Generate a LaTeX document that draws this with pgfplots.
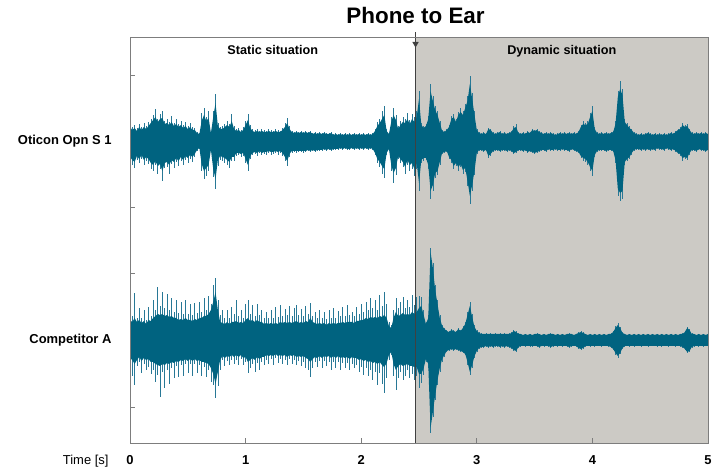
\documentclass[border=0pt]{standalone}
\usepackage{pgfplots}
\pgfplotsset{compat=1.18}
\usepackage{pgfplotstable}
\usepgfplotslibrary{fillbetween}
\tikzset{fill between/on layer=main}
\usepackage{fontspec}
\setmainfont{Liberation Sans}
\definecolor{wave}{RGB}{0,99,128}
\definecolor{hair}{RGB}{40,120,150}
\definecolor{bgray}{RGB}{204,202,197}
\definecolor{axgray}{RGB}{125,125,125}

\pgfplotstableread{
t u l a b
0.00 18 20 14 16
0.02 14 24 11 19
0.04 16 27 13 21
0.06 13 19 10 15
0.08 17 22 14 18
0.10 14 18 11 14
0.12 18 24 14 19
0.14 15 20 12 16
0.16 19 23 15 18
0.18 22 28 18 22
0.20 26 30 21 24
0.22 32 24 24 20
0.24 22 33 19 25
0.26 27 28 22 23
0.28 30 40 23 30
0.30 20 27 17 22
0.32 22 26 18 21
0.34 19 33 16 24
0.36 25 23 19 19
0.38 18 27 15 21
0.40 22 21 17 17
0.42 17 25 14 20
0.44 20 20 16 16
0.46 16 24 13 19
0.48 19 19 15 15
0.50 15 22 12 17
0.52 18 18 14 14
0.54 14 21 11 16
0.56 13 16 11 13
0.58 9 10 8 9
0.60 8 8 7 7
0.62 28 30 20 23
0.64 33 38 26 30
0.66 24 35 20 27
0.68 30 30 23 24
0.70 9 10 8 9
0.72 30 36 24 28
0.74 47 48 38 38
0.76 18 25 15 19
0.78 14 19 12 15
0.80 15 20 12 16
0.82 17 22 14 17
0.84 20 24 16 19
0.86 17 27 14 21
0.88 27 20 20 16
0.90 15 20 12 16
0.92 12 15 10 12
0.94 13 14 11 12
0.96 11 16 9 13
0.98 14 15 11 12
1.00 20 22 16 18
1.02 27 30 21 24
1.04 16 18 13 15
1.06 12 14 10 12
1.08 11 13 9 11
1.10 12 15 10 12
1.12 10 12 9 10
1.14 12 14 10 12
1.16 11 13 9 11
1.18 10 14 9 11
1.20 12 12 10 10
1.22 11 14 9 11
1.24 10 13 9 11
1.26 12 12 10 10
1.28 11 14 9 11
1.30 10 12 9 10
1.32 13 15 11 12
1.34 18 20 14 16
1.36 23 25 18 20
1.38 15 16 12 13
1.40 10 12 9 10
1.42 9 11 8 10
1.44 10 12 9 10
1.46 9 11 8 10
1.48 10 11 9 10
1.50 9 12 8 10
1.52 10 11 9 10
1.54 9 10 8 9
1.56 10 11 9 10
1.58 8 10 7 9
1.60 9 11 8 10
1.62 8 10 7 9
1.64 9 10 8 9
1.66 8 10 7 9
1.68 9 9 8 8
1.70 8 10 7 9
1.72 8 9 7 8
1.74 9 10 8 9
1.76 7 9 6 8
1.78 8 9 7 8
1.80 7 9 6 8
1.82 8 8 7 7
1.84 7 9 6 8
1.86 8 8 7 7
1.88 7 9 6 8
1.90 8 9 7 8
1.92 7 8 6 7
1.94 8 9 7 8
1.96 7 8 6 7
1.98 8 9 7 8
2.00 7 8 6 7
2.02 8 9 7 8
2.04 7 8 6 7
2.06 8 9 7 8
2.08 7 8 6 7
2.10 8 9 7 8
2.12 12 14 10 12
2.14 19 22 15 18
2.16 22 26 18 21
2.18 30 33 22 25
2.20 35 37 26 28
2.22 12 14 10 12
2.24 8 9 7 8
2.26 24 30 19 24
2.28 33 42 26 32
2.30 26 34 21 27
2.32 15 18 12 15
2.34 20 22 16 18
2.36 24 26 19 21
2.38 22 33 18 26
2.40 28 24 22 19
2.42 21 30 17 24
2.44 27 28 22 22
2.46 24 35 19 28
2.48 30 28 24 22
2.50 50 50 42 42
2.52 18 22 16 19
2.54 15 20 13 17
2.56 17 19 15 17
2.58 25 28 22 24
2.60 57 58 50 50
2.62 45 50 40 44
2.64 35 37 31 32
2.66 30 34 26 30
2.68 20 24 18 21
2.70 11 13 10 12
2.72 10 12 9 11
2.74 12 11 11 10
2.76 16 18 14 16
2.78 25 22 22 19
2.80 27 28 24 25
2.82 22 25 19 22
2.84 29 30 26 26
2.86 33 26 29 23
2.88 30 33 26 29
2.90 37 31 33 27
2.92 45 45 40 40
2.94 65 63 57 55
2.96 48 50 42 44
2.98 30 34 26 30
3.00 12 13 11 12
3.02 9 10 8 9
3.04 8 10 7 9
3.06 9 11 8 10
3.08 8 10 7 9
3.10 13 17 12 15
3.12 12 15 11 13
3.14 9 11 8 10
3.16 8 10 7 9
3.18 9 10 8 9
3.20 10 11 9 10
3.22 8 10 7 9
3.24 9 10 8 9
3.26 8 11 7 10
3.28 9 10 8 9
3.30 10 11 9 10
3.32 15 13 13 12
3.34 17 12 14 11
3.36 9 10 8 9
3.38 8 10 7 9
3.40 9 11 8 10
3.42 8 10 7 9
3.44 10 12 9 11
3.46 9 11 8 10
3.48 12 12 11 11
3.50 11 13 10 12
3.52 12 12 11 11
3.54 10 11 9 10
3.56 9 10 8 9
3.58 8 10 7 9
3.60 9 11 8 10
3.62 8 9 7 8
3.64 9 10 8 9
3.66 8 10 7 9
3.68 7 9 6 8
3.70 8 10 7 9
3.72 9 10 8 9
3.74 8 9 7 8
3.76 9 10 8 9
3.78 8 10 7 9
3.80 9 11 8 10
3.82 8 9 7 8
3.84 9 10 8 9
3.86 8 11 7 10
3.88 10 12 9 11
3.90 16 17 14 15
3.92 20 20 17 17
3.94 18 21 16 18
3.96 20 24 17 21
3.98 28 30 24 26
4.00 35 35 30 30
4.02 14 16 12 14
4.04 9 11 8 10
4.06 8 10 7 9
4.08 9 10 8 9
4.10 8 10 7 9
4.12 9 11 8 10
4.14 8 10 7 9
4.16 9 10 8 9
4.18 10 11 9 10
4.20 20 22 17 19
4.22 50 55 44 48
4.24 60 60 52 52
4.26 52 58 46 50
4.28 22 24 19 21
4.30 18 20 16 18
4.32 15 18 13 16
4.34 12 14 11 12
4.36 9 10 8 9
4.38 8 9 7 8
4.40 7 9 6 8
4.42 8 10 7 9
4.44 7 9 6 8
4.46 8 10 7 9
4.48 9 9 8 8
4.50 8 10 7 9
4.52 7 9 6 8
4.54 8 10 7 9
4.56 7 8 6 7
4.58 8 9 7 8
4.60 7 9 6 8
4.62 8 10 7 9
4.64 7 8 6 7
4.66 8 9 7 8
4.68 9 10 8 9
4.70 8 9 7 8
4.72 10 11 9 10
4.74 12 13 11 12
4.76 14 15 12 13
4.78 18 20 16 17
4.80 16 18 14 16
4.82 17 19 15 17
4.84 12 14 11 12
4.86 9 10 8 9
4.88 8 10 7 9
4.90 9 11 8 10
4.92 8 9 7 8
4.94 9 10 8 9
4.96 8 10 7 9
4.98 9 11 8 10
5.00 8 10 7 9
}\tabO

\pgfplotstableread{
t u l a b
0.00 30 25 20 18
0.02 24 36 18 20
0.04 47 45 22 24
0.06 22 26 18 20
0.08 32 22 20 17
0.10 22 33 17 21
0.12 30 24 19 18
0.14 20 30 16 20
0.16 33 27 20 19
0.18 24 34 19 22
0.20 40 30 22 22
0.22 30 42 24 24
0.24 53 35 26 25
0.26 34 57 25 26
0.28 48 32 26 24
0.30 32 48 24 25
0.32 46 30 25 23
0.34 30 44 23 24
0.36 42 28 24 22
0.38 28 38 22 23
0.40 40 26 22 21
0.42 27 37 20 22
0.44 38 25 21 20
0.46 26 36 20 21
0.48 40 24 22 19
0.50 26 33 20 21
0.52 36 24 20 19
0.54 25 36 19 21
0.56 37 24 21 19
0.58 27 33 20 21
0.60 38 25 22 20
0.62 28 36 22 22
0.64 42 27 24 22
0.66 30 37 24 23
0.68 44 30 26 24
0.70 36 42 30 28
0.72 55 45 38 34
0.74 62 58 48 44
0.76 40 46 30 32
0.78 25 30 18 20
0.80 30 20 17 16
0.82 22 26 16 18
0.84 30 21 18 16
0.86 22 25 16 17
0.88 33 20 18 15
0.90 26 24 18 17
0.92 40 20 19 15
0.94 24 25 17 17
0.96 30 19 18 15
0.98 22 25 17 18
1.00 36 22 20 17
1.02 40 33 22 22
1.04 26 28 19 20
1.06 35 24 20 18
1.08 24 32 18 20
1.10 36 23 20 17
1.12 25 30 18 19
1.14 30 22 18 17
1.16 22 25 16 17
1.18 28 20 17 15
1.20 22 24 16 16
1.22 30 19 17 15
1.24 22 25 16 16
1.26 33 18 17 14
1.28 23 23 16 16
1.30 35 19 18 15
1.32 24 24 17 16
1.34 31 20 18 15
1.36 25 25 17 17
1.38 34 19 18 15
1.40 24 24 17 16
1.42 32 20 18 15
1.44 35 25 19 17
1.46 25 21 17 16
1.48 31 26 18 17
1.50 24 22 17 16
1.52 34 28 19 18
1.54 26 30 18 19
1.56 37 37 22 22
1.58 24 28 18 19
1.60 28 22 17 17
1.62 22 27 16 18
1.64 30 21 17 16
1.66 22 28 16 18
1.68 28 21 17 16
1.70 21 26 15 17
1.72 30 22 17 16
1.74 22 30 16 18
1.76 32 22 17 16
1.78 22 28 16 18
1.80 29 22 17 16
1.82 24 30 17 18
1.84 33 23 18 17
1.86 24 28 17 18
1.88 35 23 18 17
1.90 25 30 18 19
1.92 28 24 18 17
1.94 24 28 17 18
1.96 33 25 19 18
1.98 26 32 19 20
2.00 36 27 20 19
2.02 28 35 20 21
2.04 38 28 22 20
2.06 30 36 21 22
2.08 42 30 23 21
2.10 32 40 22 23
2.12 40 32 23 22
2.14 30 45 22 24
2.16 45 33 24 22
2.18 34 44 23 25
2.20 48 53 25 27
2.22 36 38 22 23
2.24 18 20 14 15
2.26 15 15 12 12
2.28 30 36 22 24
2.30 42 50 28 30
2.32 32 38 24 26
2.34 38 32 25 24
2.36 43 40 27 26
2.38 32 36 25 25
2.40 40 30 26 24
2.42 33 38 25 26
2.44 45 34 28 26
2.46 35 40 26 27
2.48 43 36 28 27
2.50 44 48 32 34
2.52 43 43 34 34
2.54 30 35 25 28
2.56 18 22 16 19
2.58 25 28 22 24
2.60 92 93 88 88
2.62 77 77 72 72
2.64 55 60 50 55
2.66 40 45 36 40
2.68 25 32 22 28
2.70 15 22 14 19
2.72 12 17 11 15
2.74 10 12 9 11
2.76 9 11 8 10
2.78 11 10 10 9
2.80 10 11 9 10
2.82 9 10 8 9
2.84 12 11 11 10
2.86 10 12 9 11
2.88 14 13 12 12
2.90 18 15 16 14
2.92 28 25 25 22
2.94 38 35 34 32
2.96 26 28 23 25
2.98 15 18 13 16
3.00 10 12 9 11
3.02 8 9 7 8
3.04 7 8 6 7
3.06 6 8 6 7
3.08 7 7 6 6
3.10 6 8 6 7
3.12 7 7 6 6
3.14 6 8 6 7
3.16 7 7 6 6
3.18 6 7 6 6
3.20 7 8 6 7
3.22 6 7 6 6
3.24 7 8 6 7
3.26 6 7 6 6
3.28 7 8 6 7
3.30 8 9 7 8
3.32 10 11 9 10
3.34 9 12 8 11
3.36 7 8 6 7
3.38 6 7 6 6
3.40 5 6 5 6
3.42 6 7 6 6
3.44 5 6 5 6
3.46 6 7 6 6
3.48 5 7 5 6
3.50 6 6 6 6
3.52 7 7 6 6
3.54 6 8 6 7
3.56 5 6 5 6
3.58 6 7 6 6
3.60 5 6 5 6
3.62 6 7 6 6
3.64 7 8 6 7
3.66 6 7 6 6
3.68 5 6 5 6
3.70 6 7 6 6
3.72 5 6 5 6
3.74 6 7 6 6
3.76 5 6 5 6
3.78 6 7 6 6
3.80 7 8 6 7
3.82 6 7 6 6
3.84 5 6 5 6
3.86 6 7 6 6
3.88 8 9 7 8
3.90 9 10 8 9
3.92 8 9 7 8
3.94 6 7 6 6
3.96 5 6 5 6
3.98 6 7 6 6
4.00 5 6 5 6
4.02 6 7 6 6
4.04 5 6 5 6
4.06 6 6 6 6
4.08 5 7 5 6
4.10 6 6 6 6
4.12 5 6 5 6
4.14 6 7 6 6
4.16 7 8 6 7
4.18 9 10 8 9
4.20 14 15 12 13
4.22 17 18 15 16
4.24 13 14 12 13
4.26 8 9 7 8
4.28 6 7 6 6
4.30 5 6 5 6
4.32 6 7 6 6
4.34 5 6 5 6
4.36 6 7 6 6
4.38 5 6 5 6
4.40 6 6 6 6
4.42 5 7 5 6
4.44 6 6 6 6
4.46 5 6 5 6
4.48 6 7 6 6
4.50 5 6 5 6
4.52 6 6 6 6
4.54 5 6 5 6
4.56 6 7 6 6
4.58 5 6 5 6
4.60 6 7 6 6
4.62 5 6 5 6
4.64 6 6 6 6
4.66 5 7 5 6
4.68 6 6 6 6
4.70 5 6 5 6
4.72 6 7 6 6
4.74 5 6 5 6
4.76 6 7 6 6
4.78 7 8 6 7
4.80 9 10 8 9
4.82 13 13 12 12
4.84 11 12 10 11
4.86 7 8 6 7
4.88 6 7 6 6
4.90 5 6 5 6
4.92 6 7 6 6
4.94 5 6 5 6
4.96 6 7 6 6
4.98 5 6 5 6
5.00 6 7 6 6
}\tabC

\begin{document}
\begin{tikzpicture}
\begin{axis}[
  at={(130bp,32bp)}, anchor=south west,
  scale only axis, width=578bp, height=406bp,
  xmin=0, xmax=5, ymin=0, ymax=406,
  axis on top, clip=false,
  axis line style={draw=axgray, line width=0.9bp},
  tick style={draw=axgray, line width=0.9bp},
  major tick length=5bp,
  tick align=inside,
  xtick pos=bottom, ytick pos=left,
  xtick={0,1,2,3,4,5},
  xticklabels={0,1,2,3,4,5},
  xticklabel style={font=\fontsize{13}{15}\selectfont\bfseries, anchor=base, yshift=-21bp},
  ytick={36,170,236,368},
  yticklabels={,,,},
  extra y ticks={103,302},
  extra y tick labels={Competitor A,Oticon Opn S 1},
  extra y tick style={grid=none, major tick length=0pt,
    yticklabel style={font=\fontsize{13}{15}\selectfont\bfseries, anchor=east, xshift=-15bp}},
  /pgf/number format/assume math mode=true,
  hairs/.style={wave, only marks, mark=*, mark size=0pt,
    mark options={draw=none, fill=none},
    error bars/.cd, y dir=both, y explicit, error mark=none,
    error bar style={line width=0.6bp, draw=hair}},
]
\addplot[fill=bgray, draw=none] coordinates {(2.47,406) (5,406)} \closedcycle;

% Oticon Opn S 1
\addplot[hairs] table[x=t, y expr=302, y error plus=u, y error minus=l] {\tabO};
\addplot[draw=none, name path=oa] table[x=t, y expr=302+\thisrow{a}] {\tabO};
\addplot[draw=none, name path=ob] table[x=t, y expr=302-\thisrow{b}] {\tabO};
\addplot[wave] fill between[of=oa and ob];

% Competitor A
\addplot[hairs] table[x=t, y expr=103, y error plus=u, y error minus=l] {\tabC};
\addplot[draw=none, name path=ca] table[x=t, y expr=103+\thisrow{a}] {\tabC};
\addplot[draw=none, name path=cb] table[x=t, y expr=103-\thisrow{b}] {\tabC};
\addplot[wave] fill between[of=ca and cb];

\draw[black!75, line width=1bp] (axis cs:2.47,0) -- (axis cs:2.47,406) -- ++(0,5bp);
\fill[black!75] (axis cs:2.47,406) ++(-3.2bp,-5bp) -- ++(6.4bp,0) -- ++(-3.2bp,-5.5bp) -- cycle;

\node[anchor=base, font=\fontsize{12.7}{15}\selectfont\bfseries] at (axis cs:1.235,406) [yshift=-17.5bp] {Static situation};
\node[anchor=base, font=\fontsize{12.7}{15}\selectfont\bfseries] at (axis cs:3.735,406) [yshift=-17.5bp] {Dynamic situation};
\node[anchor=base, font=\fontsize{22.5}{26}\selectfont\bfseries] at (axis cs:2.47,406) [yshift=13bp] {Phone to Ear};
\node[anchor=base east, font=\fontsize{13}{15}\selectfont] at (axis cs:0,0) [xshift=-18bp, yshift=-21bp] {Time [s]};
\end{axis}
\path (0,0) rectangle (716bp,475bp);
\end{tikzpicture}
\end{document}
